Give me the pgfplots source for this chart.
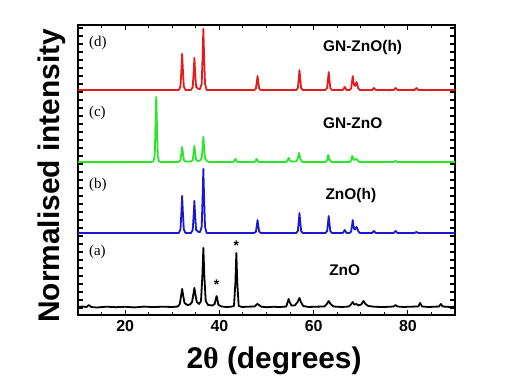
\documentclass[border=0pt]{standalone}
\usepackage{fontspec}
\setmainfont{Liberation Sans}
\newfontfamily\seriffont{Liberation Serif}
\usepackage{pgfplots}
\pgfplotsset{compat=1.18}
\definecolor{cred}{RGB}{228,28,28}
\definecolor{cgreen}{RGB}{40,230,40}
\definecolor{cblue}{RGB}{25,25,210}
\begin{document}
\begin{tikzpicture}
\useasboundingbox (0,0) rectangle (515bp,392bp);
\begin{axis}[at={(78bp,77bp)}, anchor=south west, scale only axis,
  width=377bp, height=290bp,
  xmin=10, xmax=90, ymin=0, ymax=290,
  xtick={20,40,60,80}, minor xtick={15,25,30,35,45,50,55,65,70,75,85},
  ytick={7,15,...,287}, yticklabels={},
  tick align=inside, major tick length=4.5bp, minor tick length=2.5bp,
  every tick/.style={black, line width=1.1bp},
  axis line style={line width=1.4bp},
  ticklabel style={font=\bfseries\fontsize{16}{18}\selectfont},
  /pgf/number format/assume math mode=true,
  xticklabel style={yshift=-2bp},
  xlabel={2{\seriffont θ} (degrees)},
  xlabel style={font=\bfseries\fontsize{30}{32}\selectfont, at={(axis description cs:0.52,0)}, anchor=north, yshift=-28bp},
  ylabel={Normalised intensity},
  ylabel style={font=\bfseries\fontsize{30}{32}\selectfont, at={(axis description cs:0,0.48)}, anchor=south, yshift=9bp},
  clip=true,
]
% (d) red
\addplot[cred, line width=1.8bp, line join=round] coordinates {
(10,225)(31.4,225)(31.75,228.6)(31.96,246.6)(32.1,261)(32.24,246.6)(32.45,228.6)(32.8,225)
(34.0,225)(34.35,228.2)(34.56,244.2)(34.7,257)(34.84,244.2)(35.05,228.2)(35.6,226)
(35.9,226)(36.25,231.1)(36.46,261.6)(36.6,286)(36.74,261.6)(36.95,231.1)(37.3,225)
(47.4,225)(47.75,226.4)(47.96,233.4)(48.1,239)(48.24,233.4)(48.45,226.4)(48.8,225)
(56.3,225)(56.65,227)(56.86,237)(57.0,245)(57.14,237)(57.35,227)(57.7,225)
(62.5,225)(62.85,226.8)(63.06,235.8)(63.2,243)(63.34,235.8)(63.55,226.8)(63.9,225)
(66.2,225)(66.6,228)(67.0,225)
(67.6,225)(67.95,226.4)(68.16,233.4)(68.3,239)(68.44,233.4)(68.6,230)(68.8,229)(68.98,231)(69.1,233)(69.24,231)(69.45,227)(69.8,225)
(72.4,225)(72.8,227)(73.2,225)
(77.0,225)(77.4,227)(77.8,225)
(81.4,225)(81.8,227)(82.2,225)
(90,225)
};
% (c) green
\addplot[cgreen, line width=1.8bp, line join=round] coordinates {
(10,153)(25.6,153)(26.0,153.5)(26.28,159.5)(26.46,192)(26.6,218)(26.74,192)(26.92,159.5)(27.2,153.5)(27.6,153)
(31.4,153)(31.75,155)(31.95,162)(32.1,168)(32.25,162)(32.45,155)(32.8,153.5)
(34.0,153.5)(34.35,155.2)(34.55,162.6)(34.7,169)(34.85,162.6)(35.05,155.2)(35.5,154)(35.9,154.5)(36.25,157)(36.45,168)(36.6,178)(36.75,168)(36.95,157)(37.4,153.5)(37.9,153)
(43.0,153)(43.4,156)(43.8,153)
(47.5,153)(47.9,156)(48.3,153)
(54.2,153)(54.5,155)(54.7,157)(54.9,155)(55.3,153.5)(56.3,153.5)(56.6,156)(56.8,160)(56.9,162)(57.0,160)(57.2,156)(57.6,153)
(62.6,153)(62.9,155)(63.0,158)(63.1,160)(63.2,158)(63.4,155)(63.8,153)
(67.7,153)(68.0,155)(68.1,157.5)(68.2,159)(68.35,157)(68.6,155)(68.9,155.5)(69.1,156)(69.3,155)(69.7,153)
(77.0,153)(77.4,154)(77.8,153)(90,153)
};
% (b) blue
\addplot[cblue, line width=1.8bp, line join=round] coordinates {
(10,82)(31.4,82)(31.75,85.7)(31.96,104.2)(32.1,119)(32.24,104.2)(32.45,85.7)(32.8,82)
(34.0,82)(34.35,85.2)(34.56,101.2)(34.7,114)(34.84,101.2)(35.05,85.2)(35.6,83)(35.9,83)(36.25,88.4)(36.46,120.4)(36.6,146)(36.74,120.4)(36.95,88.4)(37.3,82)
(47.4,82)(47.75,83.3)(47.96,89.8)(48.1,95)(48.24,89.8)(48.45,83.3)(48.8,82)
(56.3,82)(56.65,84)(56.86,94)(57.0,102)(57.14,94)(57.35,84)(57.7,82)
(62.5,82)(62.85,83.7)(63.06,92.2)(63.2,99)(63.34,92.2)(63.55,83.7)(63.9,82)
(66.2,82)(66.6,85)(67.0,82)
(67.6,82)(67.95,83.3)(68.16,89.8)(68.3,95)(68.44,89.8)(68.6,86)(68.8,85.5)(68.98,87)(69.1,88)(69.24,87)(69.45,84)(69.8,82)
(72.4,82)(72.8,84)(73.2,82)(77.0,82)(77.4,84)(77.8,82)(81.4,82)(81.8,83)(82.2,82)(90,82)
};
% (a) black
\addplot[black, line width=1.8bp, line join=round] coordinates {
(10,8)(11,8.5)(11.8,8)(12.3,10)(12.8,8)(14,7.5)(16,8.3)(18,7.8)(20,8.2)(22,7.6)(24,8.4)(26,7.9)(28,8.3)(30,8)
(31.2,8.5)(31.6,11)(31.9,20)(32.1,26)(32.3,20)(32.6,12)(33.2,10)(33.8,10.5)(34.2,13)(34.5,21)(34.7,27)(34.9,21)(35.2,13)(35.7,11)
(36.1,14)(36.4,40)(36.6,67)(36.8,40)(37.1,14)(37.6,10)(38.5,9.5)(39.0,11)(39.25,16)(39.4,19)(39.55,16)(39.8,10)(40.5,8.5)
(41.5,8)(42.5,8.3)(43.1,9)(43.4,32)(43.6,62)(43.8,32)(44.1,9)(44.8,8)(46,8.3)(47.5,8.5)(47.9,10.5)(48.1,11)(48.4,10)(48.9,8.3)
(50,7.8)(51.5,8.2)(53,8)(54.2,8.5)(54.5,13)(54.7,16)(54.9,13)(55.3,9.5)(56.0,9.5)(56.6,13)(57.0,17)(57.3,13)(57.8,9)
(59,8)(60.5,8.3)(62.3,8.5)(62.8,11)(63.2,14)(63.6,11)(64.2,8.5)(66,8)(67.5,8.5)(68.0,11)(68.3,13)(68.6,10.5)(69.1,11)(69.5,9.5)
(70.1,10.5)(70.6,14)(71.0,11)(71.6,9)(73,8.2)(75,8)(77.0,8.5)(77.4,10)(77.8,8.5)(79,8)(80.5,8.3)(82.2,8.5)(82.6,12)(83.0,8.5)
(84.5,8)(86.6,8.5)(87.0,11)(87.4,8.5)(89,8)(90,8.2)
};
\node[anchor=west, font=\seriffont\fontsize{15}{17}\selectfont] at (axis cs:11.6,272) {(d)};
\node[anchor=west, font=\seriffont\fontsize{15}{17}\selectfont] at (axis cs:11.6,202) {(c)};
\node[anchor=west, font=\seriffont\fontsize{15}{17}\selectfont] at (axis cs:11.6,130) {(b)};
\node[anchor=west, font=\seriffont\fontsize{15}{17}\selectfont] at (axis cs:11.6,63) {(a)};
\node[font=\bfseries\fontsize{15.5}{17}\selectfont] at (axis cs:70.4,267) {GN-ZnO(h)};
\node[font=\bfseries\fontsize{15.5}{17}\selectfont] at (axis cs:68.3,192) {GN-ZnO};
\node[font=\bfseries\fontsize{15.5}{17}\selectfont] at (axis cs:67.9,119) {ZnO(h)};
\node[font=\bfseries\fontsize{15.5}{17}\selectfont] at (axis cs:66.6,45) {ZnO};
\node[font=\bfseries\fontsize{14}{16}\selectfont] at (axis cs:39.4,30) {*};
\node[font=\bfseries\fontsize{14}{16}\selectfont] at (axis cs:43.6,69) {*};
\end{axis}
\end{tikzpicture}
\end{document}
